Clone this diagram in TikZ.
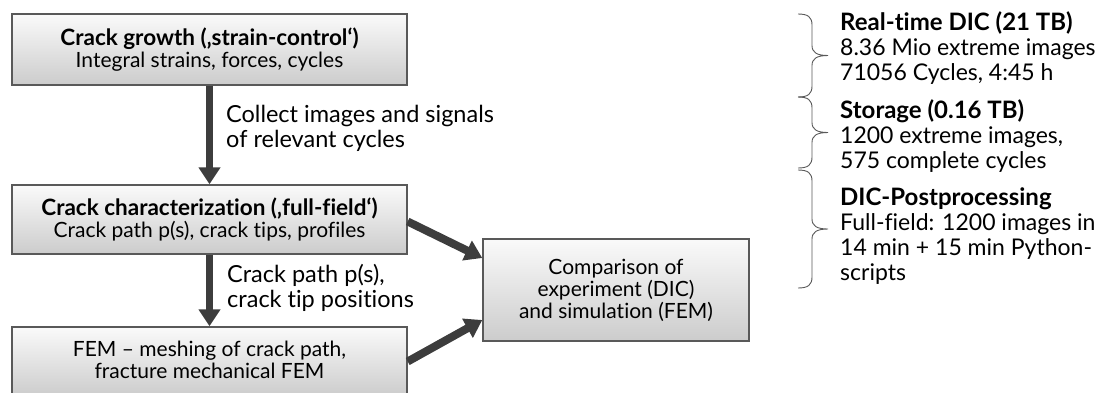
\documentclass[tikz,border=0pt]{standalone}
\usepackage{fontspec}
\setmainfont{Lato}[Ligatures=NoCommon]
\usetikzlibrary{arrows.meta}
\tikzset{>=latex}
\colorlet{boxcol}{black!65}
\colorlet{arrcol}{black!76}
\newcommand{\boxtitle}[1]{{\fontsize{22.5}{22}\selectfont\bfseries #1}}
\newcommand{\sidetitle}[1]{{\fontsize{24}{25}\selectfont\bfseries #1}}
% curly brace "}" from (x,#1) down to (x,#2), tip pointing right
\newcommand{\databrace}[2]{%
  \pgfmathsetmacro{\bmid}{(#1+#2)/2}%
  \draw[sidebrace] (798,#1) .. controls (808,#1) and (812,#1+3) .. (812,#1+11)
    -- (812,\bmid-10) .. controls (812,\bmid-3) and (817,\bmid) .. (828,\bmid)
    .. controls (817,\bmid) and (812,\bmid+3) .. (812,\bmid+10)
    -- (812,#2-11) .. controls (812,#2-3) and (808,#2) .. (798,#2);}
\tikzset{
  flowbox/.style={draw=boxcol, line width=1.4pt, top color=black!2, bottom color=black!20,
    align=center, inner sep=0pt, font=\fontsize{21}{22}\selectfont},
  flowarrow/.style={draw=arrcol, line width=6.8pt, -{Triangle[length=17pt,width=21pt]}},
  sidebrace/.style={draw=black!65, line width=0.9pt},
  sidetext/.style={align=left, anchor=north west, inner sep=0pt, font=\fontsize{23}{25}\selectfont},
  arrlabel/.style={align=left, anchor=north west, inner sep=0pt, font=\fontsize{23.5}{25}\selectfont}
}

\begin{document}
\begin{tikzpicture}[x=1pt, y=-1pt]
  \useasboundingbox (0,0) rectangle (1102,392);

  % flow boxes
  \node[flowbox, minimum width=395pt, minimum height=71pt] (growth) at (209.5,49.5)
    {\boxtitle{Crack growth (‚strain-control‘)}\\Integral strains, forces, cycles};
  \node[flowbox, minimum width=395pt, minimum height=69pt] (charac) at (209.5,219.5)
    {\boxtitle{Crack characterization (‚full-field‘)}\\Crack path p(s), crack tips, profiles};
  \node[flowbox, minimum width=395pt, minimum height=69pt] (fem) at (209.5,361.5)
    {FEM – meshing of crack path,\\fracture mechanical FEM\rule[-3pt]{0pt}{3pt}};
  \node[flowbox, minimum width=266pt, minimum height=102pt] (compare) at (616,290)
    {Comparison of\\experiment (DIC)\\and simulation (FEM)};

  % arrows between the boxes
  \draw[flowarrow] (growth.south) -- (charac.north);
  \draw[flowarrow] (charac.south) -- (fem.north);
  \draw[flowarrow, line width=8pt] ([yshift=-2pt]charac.east) -- ([yshift=32pt]compare.west);
  \draw[flowarrow, line width=8pt] (fem.east) -- ([yshift=-30pt]compare.west);

  % arrow labels
  \node[arrlabel] (collect) at (226,105) {Collect images and signals\\of relevant cycles};
  \node[arrlabel] (tippos) at (227,264.5) {Crack path p(s),\\crack tip positions};

  % data amounts on the right
  \node[sidetext] (realtime) at (840,11)
    {\sidetitle{Real-time DIC (21 TB)}\\8.36 Mio extreme images\\71056 Cycles, 4:45 h};
  \node[sidetext] (storage) at (840,99)
    {\sidetitle{Storage (0.16 TB)}\\1200 extreme images,\\575 complete cycles};
  \node[sidetext] (post) at (840,187.5)
    {\sidetitle{DIC-Postprocessing}\\Full-field: 1200 images in\\14 min + 15 min Python-\\scripts};

  % braces
  \databrace{14}{97}
  \databrace{97}{168}
  \databrace{170}{288}
\end{tikzpicture}
\end{document}
